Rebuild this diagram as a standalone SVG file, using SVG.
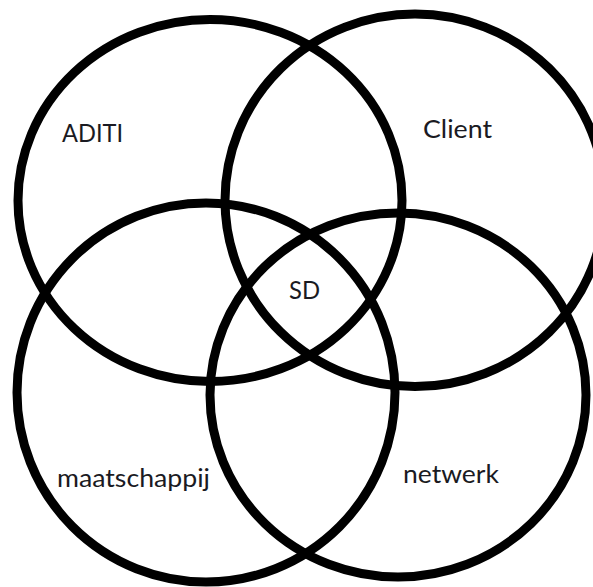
<svg xmlns="http://www.w3.org/2000/svg" width="593" height="587" viewBox="0 0 593 587">
  <style>
    .ring { fill: none; stroke: #000; stroke-width: 9; }
    .lbl { font-family: Lato, "Open Sans", "Liberation Sans", sans-serif; font-size: 25px; fill: #1a1a22; }
  </style>
  <rect width="593" height="587" fill="#fff"/>
  <g id="aditi">
    <ellipse class="ring" cx="210" cy="200.5" rx="192" ry="181"/>
    <text class="lbl" x="62" y="142" textLength="61" lengthAdjust="spacingAndGlyphs">ADITI</text>
  </g>
  <g id="client">
    <ellipse class="ring" cx="415" cy="200.3" rx="190" ry="186.3"/>
    <text class="lbl" x="423" y="138" textLength="69" lengthAdjust="spacingAndGlyphs">Client</text>
  </g>
  <g id="maatschappij">
    <ellipse class="ring" cx="206" cy="392.5" rx="189" ry="189.5"/>
    <text class="lbl" x="57" y="487" textLength="153" lengthAdjust="spacingAndGlyphs">maatschappij</text>
  </g>
  <g id="netwerk">
    <ellipse class="ring" cx="398" cy="395" rx="188" ry="182"/>
    <text class="lbl" x="403" y="483" textLength="96" lengthAdjust="spacingAndGlyphs">netwerk</text>
  </g>
  <g id="sd">
    <text class="lbl" x="289" y="299" textLength="31" lengthAdjust="spacingAndGlyphs">SD</text>
  </g>
  <g id="connectors"/>
</svg>
